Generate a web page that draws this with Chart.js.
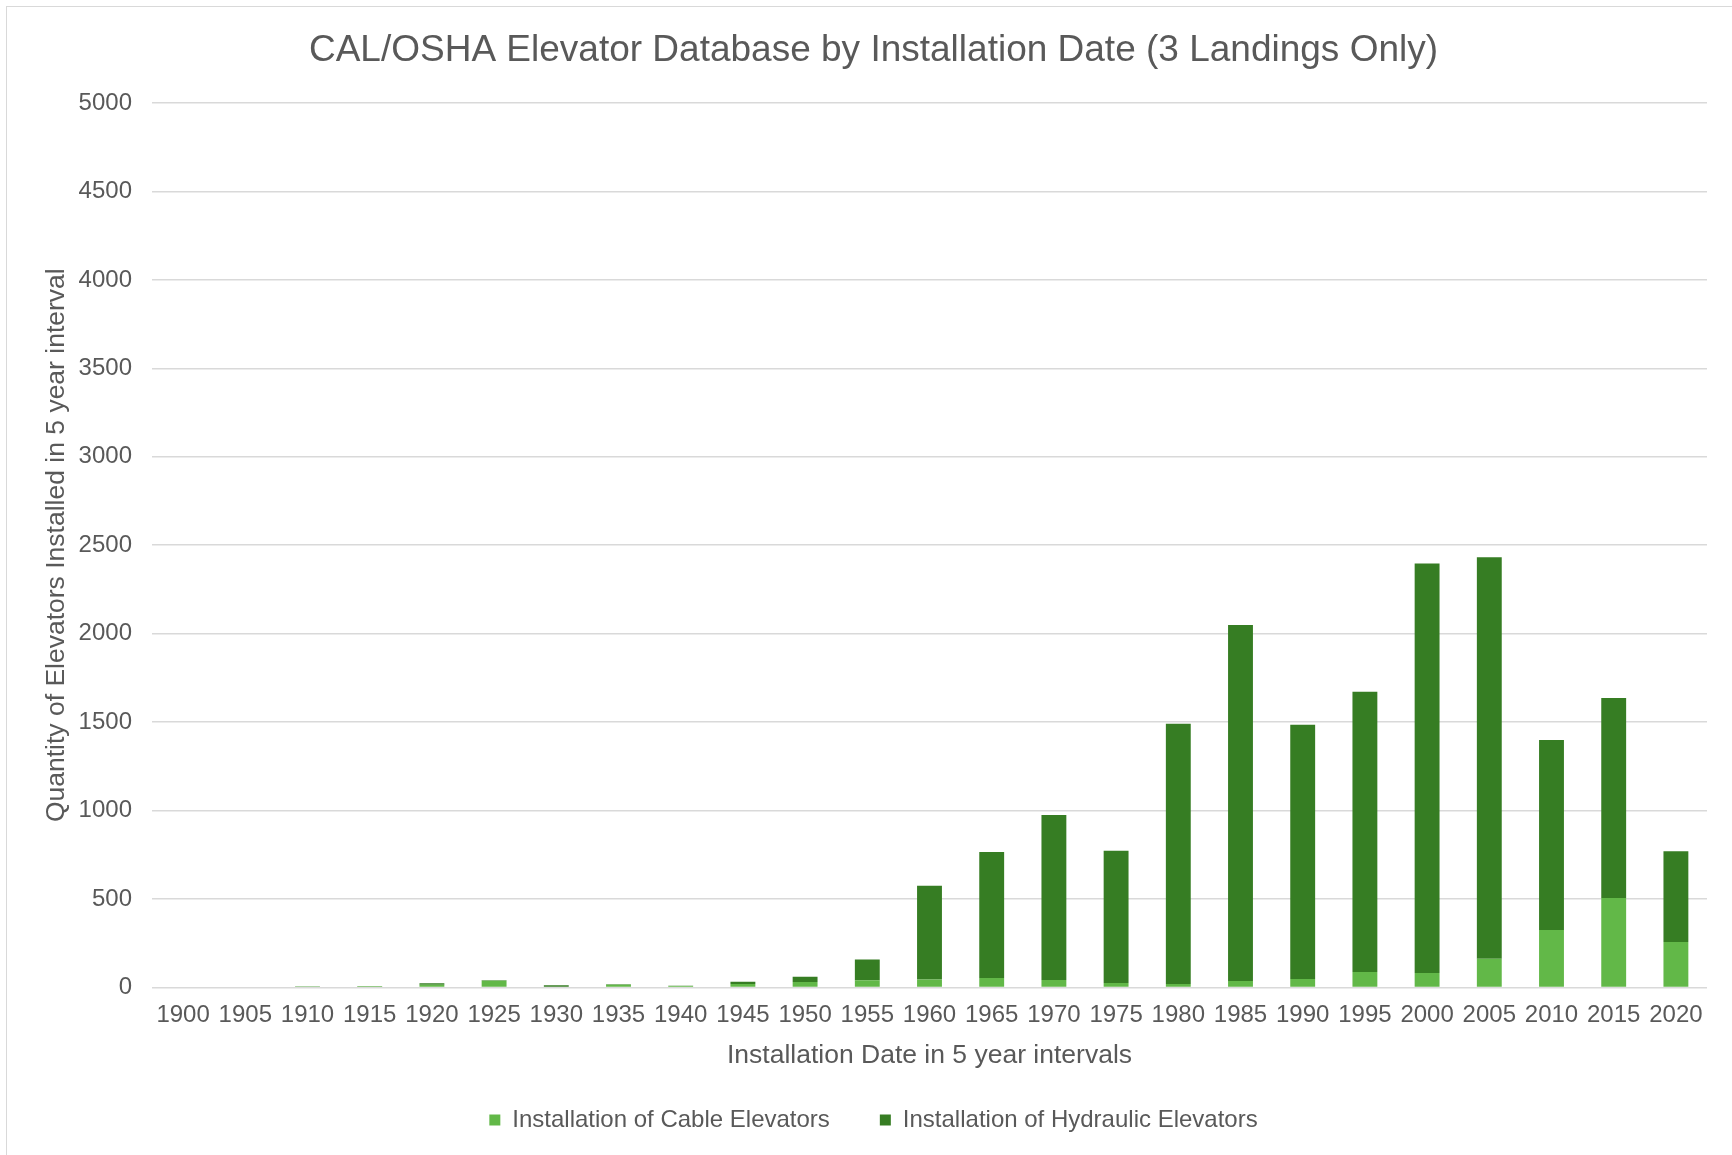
<!DOCTYPE html>
<html>
<head>
<meta charset="utf-8">
<script src="https://cdn.jsdelivr.net/npm/chart.js@4.4.0/dist/chart.umd.min.js"></script>
<style>
  html, body { margin: 0; padding: 0; background: #fff; }
  #wrap { position: relative; width: 1732px; height: 1155px; }
  #frame { position: absolute; left: 6px; top: 6px; right: 0; bottom: 0;
           border-left: 1.5px solid #d9d9d9; border-top: 1.5px solid #d9d9d9; }
  canvas { position: absolute; left: 0; top: 0; }
</style>
</head>
<body>
<div id="wrap">
  <div id="frame"></div>
  <canvas id="chart" width="1732" height="1155"></canvas>
</div>
<script>
const years = ["1900", "1905", "1910", "1915", "1920", "1925", "1930", "1935", "1940", "1945",
               "1950", "1955", "1960", "1965", "1970", "1975", "1980", "1985", "1990", "1995",
               "2000", "2005", "2010", "2015", "2020"];
const cableElevators = [0, 0, 2, 6, 15, 38, 3, 15, 8, 19,
                        30, 40, 45, 53, 42, 25, 19, 36, 47, 87,
                        81, 162, 325, 506, 257];
const hydraulicElevators = [0, 0, 1, 2, 8, 3, 9, 3, 2, 13,
                            30, 118, 530, 713, 933, 747, 1472, 2013, 1438, 1585,
                            2315, 2270, 1073, 1130, 513];

const FONT = "'Liberation Sans', Arial, sans-serif";
const TEXT = "#595959";

Chart.defaults.font.family = FONT;
Chart.defaults.color = TEXT;

new Chart(document.getElementById("chart").getContext("2d"), {
    type: "bar",
    data: {
        labels: years,
        datasets: [
            { label: "Installation of Cable Elevators", data: cableElevators,
              backgroundColor: "#62b848", borderWidth: 0 },
            { label: "Installation of Hydraulic Elevators", data: hydraulicElevators,
              backgroundColor: "#367d23", borderWidth: 0 },
        ],
    },
    options: {
        responsive: false,
        animation: false,
        categoryPercentage: 0.4,
        barPercentage: 1,
        layout: { padding: { left: 40, right: 25, top: 0, bottom: 13 } },
        plugins: {
            tooltip: { enabled: false },
            title: {
                display: true,
                text: "CAL/OSHA Elevator Database by Installation Date (3 Landings Only)",
                font: { size: 37, weight: "normal" },
                color: TEXT,
                padding: { top: 28.4, bottom: 30.2 },
            },
            legend: {
                position: "bottom",
                labels: { boxWidth: 11, boxHeight: 11, padding: 50, font: { size: 24 }, color: TEXT },
            },
        },
        scales: {
            x: {
                stacked: true,
                grid: { display: false, drawTicks: false },
                border: { display: false },
                ticks: { font: { size: 24 }, color: TEXT, padding: 13.6, maxRotation: 0, autoSkip: false },
                title: { display: true, text: "Installation Date in 5 year intervals",
                         font: { size: 26.5 }, color: TEXT, padding: { top: -3.8, bottom: -13.4 } },
            },
            y: {
                stacked: true,
                min: 0,
                max: 5000,
                ticks: { stepSize: 500, font: { size: 24 }, color: TEXT, padding: 20,
                         callback: (v) => String(v) },
                grid: { color: "#d9d9d9", lineWidth: 1.5, drawTicks: false },
                border: { display: false },
                title: { display: true, text: "Quantity of Elevators Installed in 5 year interval",
                         font: { size: 26.5 }, color: TEXT, padding: { top: 1, bottom: 0 } },
                afterFit: (scale) => { scale.width = 112; },
            },
        },
    },
});
</script>
</body>
</html>
